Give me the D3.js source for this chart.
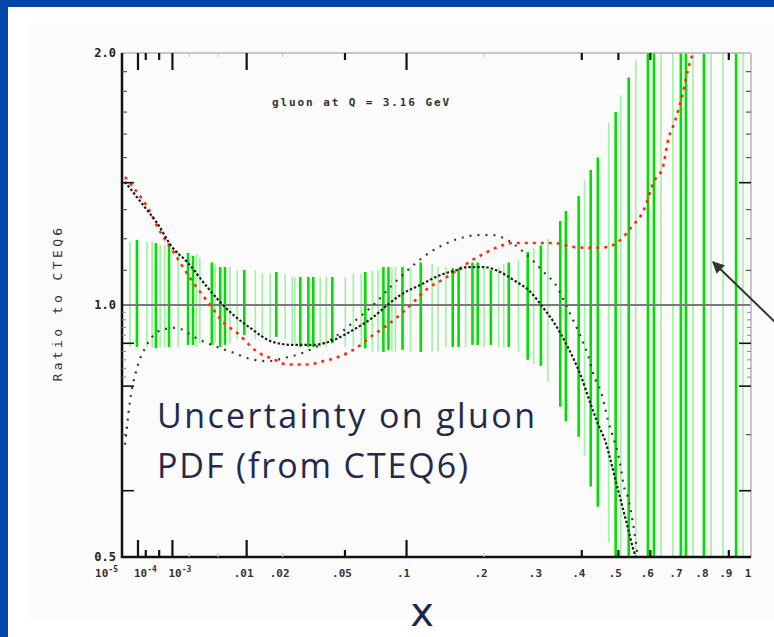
<!DOCTYPE html>
<html>
<head>
<meta charset="utf-8">
<script src="https://cdn.jsdelivr.net/npm/d3@7"></script>
<style>
  html, body { margin: 0; padding: 0; background: #fff; }
  svg { display: block; }
</style>
</head>
<body>
<svg id="chart" width="774" height="637"></svg>
<script>
// uncertainty bars, bright set
const brightX  = [9.0e-5, 4.1e-4, 8.5e-4, 1.92e-3, 2.3e-3, 4.2e-3, 5.3e-3, 6.0e-3, 9.5e-3, 0.0179,
                  0.0267, 0.0302, 0.0325, 0.0424, 0.064, 0.0785, 0.0829, 0.096, 0.115, 0.154,
                  0.162, 0.182, 0.190, 0.211, 0.242, 0.278, 0.305, 0.348, 0.361, 0.392,
                  0.423, 0.442, 0.492, 0.531, 0.592, 0.612, 0.707, 0.726, 0.796, 0.932];
const brightHi = [1.196, 1.186, 1.186, 1.154, 1.145, 1.124, 1.110, 1.110, 1.101, 1.095,
                  1.080, 1.080, 1.080, 1.080, 1.095, 1.110, 1.110, 1.110, 1.124, 1.107,
                  1.107, 1.124, 1.124, 1.101, 1.124, 1.157, 1.178, 1.260, 1.295, 1.350,
                  1.450, 1.500, 1.700, 1.870, 2.5, 2.5, 2.5, 2.5, 2.5, 2.5];
const brightLo = [0.891, 0.888, 0.891, 0.896, 0.896, 0.896, 0.891, 0.896, 0.921, 0.916,
                  0.891, 0.891, 0.891, 0.900, 0.888, 0.879, 0.884, 0.884, 0.879, 0.891,
                  0.891, 0.896, 0.896, 0.896, 0.891, 0.860, 0.846, 0.756, 0.726, 0.696,
                  0.607, 0.574, 0.450, 0.400, 0.4, 0.4, 0.4, 0.4, 0.4, 0.4];

// uncertainty bars, pale set
const faintX  = [3.9e-5, 2.2e-4, 5.3e-4, 1.29e-3, 2.9e-3, 6.8e-3, 8.1e-3, 0.012, 0.0138, 0.0209,
                 0.0235, 0.0359, 0.0502, 0.0555, 0.0694, 0.0893, 0.104, 0.128, 0.145, 0.172,
                 0.224, 0.260, 0.290, 0.320, 0.407, 0.472, 0.507, 0.553, 0.636, 0.678,
                 0.753, 0.825, 0.875, 0.963,
                 3.2e-4, 6.8e-4, 2.6e-3, 4.6e-3, 0.016, 0.0245, 0.039, 0.061, 0.074, 0.086,
                 0.135, 0.200, 0.233];
const faintHi = [1.19, 1.19, 1.18, 1.16, 1.14, 1.11, 1.10, 1.10, 1.09, 1.09,
                 1.08, 1.08, 1.08, 1.09, 1.10, 1.11, 1.11, 1.12, 1.11, 1.12,
                 1.11, 1.13, 1.17, 1.20, 1.41, 1.65, 1.78, 1.96, 2.5, 2.5,
                 2.5, 2.5, 2.5, 2.5,
                 1.19, 1.18, 1.15, 1.12, 1.09, 1.08, 1.08, 1.09, 1.10, 1.11,
                 1.11, 1.11, 1.12];
const faintLo = [0.89, 0.89, 0.89, 0.89, 0.90, 0.90, 0.91, 0.91, 0.92, 0.91,
                 0.90, 0.89, 0.89, 0.89, 0.88, 0.88, 0.88, 0.88, 0.89, 0.89,
                 0.89, 0.88, 0.85, 0.81, 0.66, 0.52, 0.48, 0.45, 0.4, 0.4,
                 0.4, 0.4, 0.4, 0.4,
                 0.89, 0.89, 0.89, 0.90, 0.91, 0.90, 0.89, 0.89, 0.88, 0.88,
                 0.88, 0.89, 0.89];

// black densely dotted curve
const solidX = [1.8e-5, 1.59e-4, 4.4e-4, 9.8e-4, 1.85e-3, 3.65e-3, 5.3e-3, 7.4e-3, 0.0108, 0.0169,
                0.0239, 0.0325, 0.043, 0.0555, 0.0702, 0.082, 0.094, 0.1147, 0.1382, 0.1605,
                0.1748, 0.1992, 0.2189, 0.2509, 0.2839, 0.3088, 0.333, 0.3654, 0.3972, 0.4231,
                0.4446, 0.4639, 0.478, 0.4983, 0.5072, 0.5283, 0.5437, 0.553];
const solidRatio = [1.403, 1.317, 1.253, 1.173, 1.126, 1.051, 1.008, 0.973, 0.939, 0.903,
                    0.896, 0.896, 0.908, 0.934, 0.9675, 1.0, 1.028, 1.057, 1.086, 1.101,
                    1.110, 1.110, 1.101, 1.071, 1.036, 0.9945, 0.954, 0.891, 0.824, 0.761,
                    0.717, 0.685, 0.651, 0.603, 0.584, 0.542, 0.513, 0.5];

// black sparsely dotted curve
const dotX = [1.8e-5, 5.1e-5, 7.3e-5, 1.21e-4, 1.88e-4, 3.17e-4, 5.9e-4, 1.13e-3, 2.92e-3, 4.87e-3,
              7.4e-3, 0.0108, 0.0152, 0.0216, 0.028, 0.0325, 0.043, 0.0555, 0.0702, 0.0847,
              0.094, 0.1071, 0.1261, 0.1471, 0.1647, 0.1898, 0.2156, 0.2328, 0.27, 0.311,
              0.342, 0.3535, 0.3725, 0.3972, 0.4152, 0.431, 0.45, 0.4695, 0.5072, 0.5161,
              0.5283, 0.5437, 0.5593];
const dotRatio = [0.681, 0.795, 0.824, 0.862, 0.888, 0.916, 0.934, 0.939, 0.908, 0.891,
                  0.877, 0.862, 0.857, 0.866, 0.877, 0.888, 0.913, 0.954, 1.0, 1.051,
                  1.080, 1.116, 1.157, 1.186, 1.202, 1.212, 1.212, 1.202, 1.157, 1.095,
                  1.048, 1.019, 0.973, 0.916, 0.873, 0.824, 0.789, 0.730, 0.639, 0.608,
                  0.590, 0.550, 0.5];

// red dotted curve
const redX = [1.8e-5, 5.8e-5, 2.76e-4, 4.67e-4, 9.8e-4, 2.07e-3, 3.99e-3, 5.72e-3, 8.1e-3, 0.0125,
              0.0169, 0.0216, 0.0297, 0.0359, 0.0453, 0.0555, 0.0702, 0.082, 0.0911, 0.0989,
              0.1071, 0.1237, 0.1357, 0.1605, 0.1822, 0.1992, 0.2189, 0.2509, 0.2778, 0.333,
              0.3798, 0.431, 0.4695, 0.4983, 0.5374, 0.5787, 0.6117, 0.6425, 0.6635, 0.678,
              0.7147, 0.7334, 0.7526];
const redRatio = [1.422, 1.384, 1.292, 1.236, 1.164, 1.077, 1.0, 0.954, 0.926, 0.879,
                  0.862, 0.849, 0.849, 0.855, 0.866, 0.884, 0.921, 0.9465, 0.9675, 0.9864,
                  1.008, 1.048, 1.065, 1.101, 1.132, 1.151, 1.170, 1.186, 1.186, 1.186,
                  1.173, 1.170, 1.173, 1.189, 1.236, 1.299, 1.403, 1.462, 1.587, 1.632,
                  1.792, 1.908, 2.0];

// axis ticks
const xTicksLong  = [1e-4, 1e-3, 1e-2, 0.1];
const xTicksShort = [2e-4, 5e-4, 0.05, 0.4, 0.5, 0.6, 0.9];
const xTicksFaint = [2e-3, 5e-3, 0.02, 0.2];
const xLabelValues = [1e-4, 1e-3, 0.01, 0.02, 0.05, 0.1, 0.2, 0.3, 0.4, 0.5, 0.6, 0.7, 0.8, 0.9, 1];
const xLabelText   = ["10", "10", ".01", ".02", ".05", ".1", ".2", ".3", ".4", ".5", ".6", ".7", ".8", ".9", "1"];
const xLabelExp    = ["-4", "-3", "", "", "", "", "", "", "", "", "", "", "", "", ""];
const yTicksLong  = [0.6, 0.8, 0.9, 1.4];
const yTicksShort = [0.7, 1.1, 1.2, 1.3, 1.5, 1.6, 1.7, 1.8, 1.9];
const yTicksMinor = [0.82, 0.84, 0.86, 0.88, 0.92, 0.94, 0.96, 0.98];
const yLabelValues = [2.0, 1.0, 0.5];
const yLabelText   = ["2.0", "1.0", "0.5"];

const svg = d3.select("#chart");
const W = 774, H = 637;

// slide background with the blue frame
svg.append("rect").attr("width", W).attr("height", H).attr("fill", "#0047a9");
svg.append("rect").attr("x", 8).attr("y", 7).attr("width", W - 8).attr("height", H - 7).attr("fill", "#ffffff");
svg.append("rect").attr("x", 28).attr("y", 23).attr("width", W - 28).attr("height", 597).attr("fill", "#fbfbfb");

const plotLeft = 122, plotRight = 751, plotTop = 53, plotBottom = 557;

const x = d3.scalePow().exponent(1 / 3).domain([1e-5, 1]).range([plotLeft, plotRight]);
const y = d3.scaleLog().domain([0.5, 2]).range([plotBottom, plotTop]);

svg.append("clipPath").attr("id", "plotClip")
  .append("rect")
    .attr("x", plotLeft).attr("y", plotTop)
    .attr("width", plotRight - plotLeft).attr("height", plotBottom - plotTop);

const plot = svg.append("g").attr("clip-path", "url(#plotClip)");

// pale bars first, bright ones on top
plot.append("g")
  .selectAll("line")
  .data(faintX.map((d, i) => ({ x: d, hi: faintHi[i], lo: faintLo[i] })))
  .join("line")
    .attr("x1", d => x(d.x)).attr("x2", d => x(d.x))
    .attr("y1", d => y(d.hi)).attr("y2", d => y(d.lo))
    .attr("stroke", "#9ff29f")
    .attr("stroke-width", 1.6);

plot.append("g")
  .selectAll("line")
  .data(brightX.map((d, i) => ({ x: d, hi: brightHi[i], lo: brightLo[i] })))
  .join("line")
    .attr("x1", d => x(d.x)).attr("x2", d => x(d.x))
    .attr("y1", d => y(d.hi)).attr("y2", d => y(d.lo))
    .attr("stroke", "#00e000")
    .attr("stroke-width", 2.6);

// ratio = 1 reference line
plot.append("line")
  .attr("x1", plotLeft).attr("x2", plotRight)
  .attr("y1", y(1)).attr("y2", y(1))
  .attr("stroke", "#7a7a7a")
  .attr("stroke-width", 2);

const line = d3.line()
  .x(d => x(d[0]))
  .y(d => y(d[1]))
  .curve(d3.curveMonotoneX);

plot.append("path")
  .attr("d", line(dotX.map((d, i) => [d, dotRatio[i]])))
  .attr("fill", "none")
  .attr("stroke", "#3a3a3a")
  .attr("stroke-width", 2.2)
  .attr("stroke-dasharray", "2,6");

plot.append("path")
  .attr("d", line(redX.map((d, i) => [d, redRatio[i]])))
  .attr("fill", "none")
  .attr("stroke", "#ff2a10")
  .attr("stroke-width", 2.6)
  .attr("stroke-dasharray", "3,5");

plot.append("path")
  .attr("d", line(solidX.map((d, i) => [d, solidRatio[i]])))
  .attr("fill", "none")
  .attr("stroke", "#1c1c1c")
  .attr("stroke-width", 2.2)
  .attr("stroke-dasharray", "2.5,2");

// frame
svg.append("line").attr("x1", plotLeft).attr("x2", plotRight).attr("y1", plotTop).attr("y2", plotTop)
  .attr("stroke", "#b4b4b4").attr("stroke-width", 1.5);
svg.append("line").attr("x1", plotRight).attr("x2", plotRight).attr("y1", plotTop).attr("y2", plotBottom)
  .attr("stroke", "#b4b4b4").attr("stroke-width", 1.5);
svg.append("line").attr("x1", plotLeft).attr("x2", plotLeft).attr("y1", plotTop).attr("y2", plotBottom + 1)
  .attr("stroke", "#111").attr("stroke-width", 2.5);
svg.append("line").attr("x1", plotLeft - 1).attr("x2", plotRight).attr("y1", plotBottom).attr("y2", plotBottom)
  .attr("stroke", "#111").attr("stroke-width", 2.5);

// x ticks, bottom (pointing up) and top (pointing down)
const xTickSets = [
  { values: xTicksLong, len: 17, color: "#111", width: 2.2 },
  { values: xTicksShort, len: 7, color: "#111", width: 2.2 },
  { values: xTicksFaint, len: 4, color: "#c8c8c8", width: 1.2 }
];
const ticks = svg.append("g");
xTickSets.forEach(s => {
  ticks.append("g").selectAll("line").data(s.values).join("line")
    .attr("x1", d => x(d)).attr("x2", d => x(d))
    .attr("y1", plotBottom).attr("y2", plotBottom - s.len)
    .attr("stroke", s.color).attr("stroke-width", s.width);
  ticks.append("g").selectAll("line").data(s.values).join("line")
    .attr("x1", d => x(d)).attr("x2", d => x(d))
    .attr("y1", plotTop).attr("y2", plotTop + s.len)
    .attr("stroke", s.color).attr("stroke-width", s.width);
});

// y ticks, left (pointing right) and right (pointing left)
const yTickSets = [
  { values: yTicksLong, len: 12, color: "#111", width: 1.6 },
  { values: yTicksShort, len: 5, color: "#555", width: 1.2 },
  { values: yTicksMinor, len: 4, color: "#888", width: 1 }
];
yTickSets.forEach(s => {
  ticks.append("g").selectAll("line").data(s.values).join("line")
    .attr("x1", plotLeft).attr("x2", plotLeft + s.len)
    .attr("y1", d => y(d)).attr("y2", d => y(d))
    .attr("stroke", s.color).attr("stroke-width", s.width);
  ticks.append("g").selectAll("line").data(s.values).join("line")
    .attr("x1", plotRight).attr("x2", plotRight - s.len)
    .attr("y1", d => y(d)).attr("y2", d => y(d))
    .attr("stroke", s.color).attr("stroke-width", s.width);
});

const monoFont = "'DejaVu Sans Mono', 'Liberation Mono', monospace";

// y labels
svg.append("g")
    .attr("font-family", monoFont)
    .attr("font-size", 12)
    .attr("font-weight", "bold")
    .attr("fill", "#222")
    .attr("text-anchor", "end")
  .selectAll("text")
  .data(yLabelValues)
  .join("text")
    .attr("x", plotLeft - 6)
    .attr("y", d => y(d) + 4)
    .text((d, i) => yLabelText[i]);

// x labels
const xLab = svg.append("g")
  .attr("font-family", monoFont)
  .attr("font-size", 11)
  .attr("font-weight", "bold")
  .attr("fill", "#333");

xLab.append("text")
  .attr("x", x(1e-5) - 4)
  .attr("y", 577)
  .attr("text-anchor", "end")
  .call(t => t.append("tspan").text("10"))
  .call(t => t.append("tspan").attr("dy", -5).attr("font-size", 8).text("-5"));

xLab.selectAll("text.tick")
  .data(xLabelValues)
  .join("text")
    .attr("class", "tick")
    .attr("x", (d, i) => xLabelExp[i] ? x(d) - 4 : x(d) - 3)
    .attr("y", 577)
    .attr("text-anchor", (d, i) => xLabelExp[i] ? "start" : "middle")
    .each(function (d, i) {
      const t = d3.select(this);
      t.append("tspan").text(xLabelText[i]);
      if (xLabelExp[i]) t.append("tspan").attr("dy", -5).attr("font-size", 8).text(xLabelExp[i]);
    });

// in-plot annotation
svg.append("text")
  .attr("x", 272)
  .attr("y", 106)
  .attr("font-family", monoFont)
  .attr("font-size", 11)
  .attr("font-weight", "bold")
  .attr("letter-spacing", 1.9)
  .attr("fill", "#333")
  .text("gluon at Q = 3.16 GeV");

// y title
svg.append("text")
  .attr("transform", "translate(62,303) rotate(-90)")
  .attr("text-anchor", "middle")
  .attr("font-family", monoFont)
  .attr("font-size", 13)
  .attr("letter-spacing", 3.4)
  .attr("fill", "#333")
  .text("Ratio to CTEQ6");

// slide text
const slideFont = "'Open Sans', 'DejaVu Sans', sans-serif";
svg.append("text")
  .attr("x", 157).attr("y", 428)
  .attr("font-family", slideFont)
  .attr("font-size", 34)
  .attr("fill", "#252a4d")
  .attr("textLength", 378)
  .text("Uncertainty on gluon");
svg.append("text")
  .attr("x", 157).attr("y", 478)
  .attr("font-family", slideFont)
  .attr("font-size", 34)
  .attr("fill", "#252a4d")
  .attr("textLength", 311)
  .text("PDF (from CTEQ6)");

svg.append("text")
  .attr("x", 422).attr("y", 626)
  .attr("text-anchor", "middle")
  .attr("font-family", "'DejaVu Sans', sans-serif")
  .attr("font-size", 40)
  .attr("fill", "#1d2550")
  .text("x");

// arrow
svg.append("defs").append("marker")
    .attr("id", "head")
    .attr("viewBox", "0 0 10 10")
    .attr("refX", 9).attr("refY", 5)
    .attr("markerWidth", 6).attr("markerHeight", 6)
    .attr("orient", "auto")
  .append("path")
    .attr("d", "M0,0L10,5L0,10z")
    .attr("fill", "#333");
svg.append("line")
  .attr("x1", 776).attr("y1", 323)
  .attr("x2", 713).attr("y2", 262)
  .attr("stroke", "#333")
  .attr("stroke-width", 2)
  .attr("marker-end", "url(#head)");
</script>
</body>
</html>
